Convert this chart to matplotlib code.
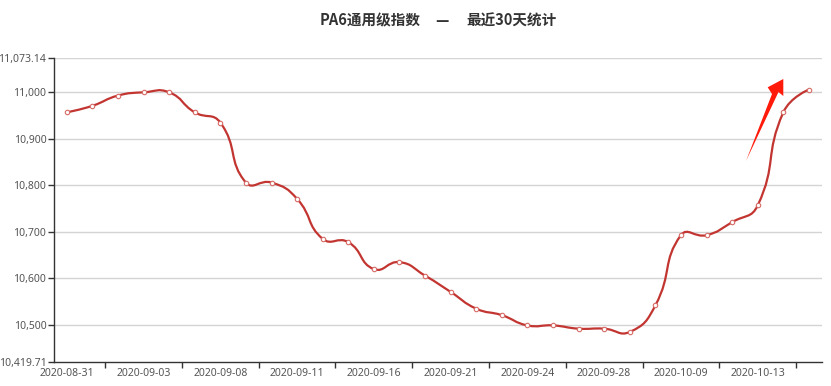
import matplotlib.pyplot as plt
import numpy as np
from matplotlib.path import Path
from matplotlib.patches import PathPatch, Polygon

plt.rcParams['font.family'] = ['Noto Sans CJK SC', 'DejaVu Sans']

# trading days (30 points)
dates = ["2020-08-31", "2020-09-01", "2020-09-02", "2020-09-03", "2020-09-04",
         "2020-09-07", "2020-09-08", "2020-09-09", "2020-09-10", "2020-09-11",
         "2020-09-14", "2020-09-15", "2020-09-16", "2020-09-17", "2020-09-18",
         "2020-09-21", "2020-09-22", "2020-09-23", "2020-09-24", "2020-09-25",
         "2020-09-27", "2020-09-28", "2020-09-29", "2020-09-30", "2020-10-09",
         "2020-10-10", "2020-10-12", "2020-10-13", "2020-10-14", "2020-10-15"]

index_values = [10957, 10971, 10993, 11000, 11000, 10957, 10935, 10806, 10806, 10771,
                10685, 10678, 10620, 10635, 10606, 10571, 10535, 10521, 10499, 10499,
                10492, 10492, 10485, 10542, 10693, 10693, 10721, 10757, 10957, 11006]

y_min, y_max = 10419.71, 11073.14
y_ticks = [10419.71, 10500, 10600, 10700, 10800, 10900, 11000, 11073.14]

W, H = 831, 386
fig = plt.figure(figsize=(W / 100, H / 100), dpi=100)
ax_l, ax_r, ax_t, ax_b = 54, 821.7, 58.3, 362.3
ax = fig.add_axes([ax_l / W, (H - ax_b) / H, (ax_r - ax_l) / W, (ax_b - ax_t) / H])

line_color = '#c23531'
n = len(dates)
x = np.arange(n)
y = np.array(index_values, dtype=float)

# echarts-like smooth bezier, distances measured in pixel space
sx = (ax_r - ax_l) / n
sy = (ax_b - ax_t) / (y_max - y_min)
pts = np.column_stack([x, y])
px = np.column_stack([x * sx, y * sy])
smooth = 0.5
cps = []
for i in range(n):
    if i == 0 or i == n - 1:
        cps.append((pts[i], pts[i]))
        continue
    v = (pts[i + 1] - pts[i - 1]) * smooth
    d0 = np.hypot(*(px[i] - px[i - 1]))
    d1 = np.hypot(*(px[i] - px[i + 1]))
    s = d0 + d1
    cps.append((pts[i] - v * d0 / s, pts[i] + v * d1 / s))

verts = [pts[0]]
codes = [Path.MOVETO]
for i in range(n - 1):
    verts += [cps[i][1], cps[i + 1][0], pts[i + 1]]
    codes += [Path.CURVE4] * 3
ax.add_patch(PathPatch(Path(verts, codes), facecolor='none', edgecolor=line_color, lw=1.6, zorder=3))
ax.plot(x, y, linestyle='none', marker='o', markersize=3.2, markerfacecolor='white',
        markeredgecolor='#d66a66', markeredgewidth=0.8, zorder=4)

ax.set_xlim(-0.5, n - 0.5)
ax.set_ylim(y_min, y_max)

tick_font = dict(family='Noto Sans', size=7.5, color='#555555')
ax.set_yticks(y_ticks)
ax.set_yticklabels([f"{v:,.2f}" if v % 1 else f"{v:,.0f}" for v in y_ticks], fontdict=tick_font)
for v in y_ticks[1:]:
    ax.axhline(v, color='#d4d4d4', lw=1, zorder=1)

label_pos = x[::3]
ax.set_xticks(label_pos)
ax.set_xticklabels([dates[i] for i in label_pos], fontdict=tick_font)
ax.set_xticks(np.arange(1.5, n, 3), minor=True)
ax.tick_params(axis='x', which='major', length=0, pad=4)
ax.tick_params(axis='x', which='minor', length=4, color='#333333', width=1)
ax.tick_params(axis='y', length=4, color='#333333', width=1, pad=1.5)

for side in ['top', 'right']:
    ax.spines[side].set_visible(False)
for side in ['left', 'bottom']:
    ax.spines[side].set_color('#333333')
    ax.spines[side].set_linewidth(1)
    ax.spines[side].set_zorder(5)

# title in three parts to match spacing
title_y = 1 - 20.5 / H
title_kw = dict(va='center', fontsize=10.5, fontweight='bold', color='#333333')
fig.text(421 / W, title_y, "PA6通用级指数", ha='right', **title_kw)
fig.text(442 / W, title_y, "—", ha='center', **title_kw)
fig.text(466 / W, title_y, "最近30天统计", ha='left', **title_kw)

# red arrow annotation (figure pixels)
arrow_px = [(746, 161), (772, 94), (767.7, 87.3), (783.3, 79), (783.3, 96), (778.5, 92)]
fig.patches.append(Polygon([(px_ / W, 1 - py_ / H) for px_, py_ in arrow_px], closed=True,
                           transform=fig.transFigure, facecolor='#ff1a0a', edgecolor='none',
                           zorder=10))

fig.savefig('out.png', dpi=100)
